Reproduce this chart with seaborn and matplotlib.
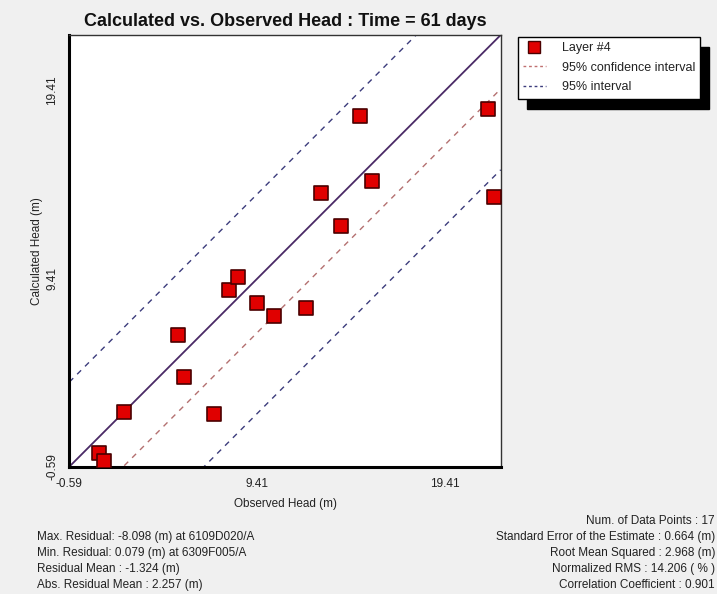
import numpy as np
import pandas as pd
import matplotlib
matplotlib.use("Agg")
import matplotlib.pyplot as plt
import seaborn as sns
from matplotlib.lines import Line2D

# ---------------- data ----------------
observed = [0.99, 1.26, 2.32, 5.18, 5.53, 7.12, 7.90, 8.40, 9.39, 10.30,
            12.02, 12.80, 13.86, 14.87, 15.50, 21.70, 22.00]
calculated = [0.12, -0.27, 2.30, 6.41, 4.17, 2.20, 8.81, 9.52, 8.10, 7.43,
              7.87, 13.95, 12.21, 18.08, 14.61, 18.42, 13.77]
series_label = "Layer #4"
axis_min = -0.59
axis_max = 22.37
tick_labels_at = [-0.59, 9.41, 19.41]
conf_offsets = [-2.87]          # 95% confidence interval (offset from 1:1)
pred_offsets = [4.50, -7.17]    # 95% interval (offset from 1:1)

left_stats = ["Max. Residual: -8.098 (m) at 6109D020/A",
              "Min. Residual: 0.079 (m) at 6309F005/A",
              "Residual Mean : -1.324 (m)",
              "Abs. Residual Mean : 2.257 (m)"]
right_stats = ["Num. of Data Points : 17",
               "Standard Error of the Estimate : 0.664 (m)",
               "Root Mean Squared : 2.968 (m)",
               "Normalized RMS : 14.206 ( % )",
               "Correlation Coefficient : 0.901"]

# ---------------- style ----------------
sns.set_style("white")
plt.rcParams['font.family'] = ['Liberation Sans', 'DejaVu Sans']
BG = "#f0f0f0"

W, H = 717, 594
fig = plt.figure(figsize=(W / 100, H / 100), dpi=100, facecolor=BG)
ax = fig.add_axes([69.3 / W, 1 - 466.7 / H, (500.7 - 69.3) / W, (466.7 - 35) / H])
ax.set_facecolor("white")

df = pd.DataFrame({"obs": observed, "calc": calculated})
line_x = np.array([axis_min, axis_max])

# 1:1 line
sns.lineplot(x=line_x, y=line_x, ax=ax, color="#4a2a66", lw=1.3, zorder=2)
for off in conf_offsets:
    sns.lineplot(x=line_x, y=line_x + off, ax=ax, color="#b47070", lw=1.0,
                 linestyle=(0, (4, 4)), zorder=2)
for off in pred_offsets:
    sns.lineplot(x=line_x, y=line_x + off, ax=ax, color="#3c3c7c", lw=1.0,
                 linestyle=(0, (4, 4)), zorder=2)

sns.scatterplot(data=df, x="obs", y="calc", ax=ax, marker="s", s=115,
                color="#e00000", edgecolor="#4a0000", linewidth=1.2, zorder=3)

ax.set_xlim(axis_min, axis_max)
ax.set_ylim(axis_min, axis_max)

ticks = np.arange(axis_min, axis_max, 2.0)
labels = [(f"{t:.2f}" if any(abs(t - l) < 1e-6 for l in tick_labels_at) else "") for t in ticks]
ax.set_xticks(ticks)
ax.set_xticklabels(labels)
ax.set_yticks(ticks)
ax.set_yticklabels(labels, rotation=90, va="center")
ax.tick_params(axis="both", direction="out", length=5, width=1, color="black",
               labelsize=8.5, labelcolor="#222222", pad=3)

for side in ["left", "bottom"]:
    ax.spines[side].set_linewidth(2.2)
    ax.spines[side].set_color("black")
for side in ["top", "right"]:
    ax.spines[side].set_linewidth(1.0)
    ax.spines[side].set_color("#333333")

ax.set_xlabel("Observed Head (m)", fontsize=8.5, color="#222222", labelpad=6)
ax.set_ylabel("Calculated Head (m)", fontsize=8.5, color="#222222", labelpad=2)

fig.text(285 / W, 1 - 22 / H, "Calculated vs. Observed Head : Time = 61 days",
         ha="center", va="center", fontsize=13, fontweight="bold", color="#111111")

# legend
handles = [Line2D([], [], marker="s", linestyle="none", markersize=8,
                  markerfacecolor="#e00000", markeredgecolor="#4a0000"),
           Line2D([], [], color="#c07070", lw=1.0, linestyle=(0, (2, 2))),
           Line2D([], [], color="#3c3c7c", lw=1.0, linestyle=(0, (2, 2)))]
leg = fig.legend(handles, [series_label, "95% confidence interval", "95% interval"],
                 loc="upper left", bbox_to_anchor=(518 / W, 1 - 37 / H),
                 borderaxespad=0, frameon=True, fancybox=False, fontsize=9,
                 handlelength=1.8, handletextpad=1.3, borderpad=0.4,
                 labelspacing=0.62, edgecolor="black",
                 shadow={"color": "black", "alpha": 1.0, "ox": 6.5, "oy": -7.2})
leg.get_frame().set_linewidth(1.0)
leg.get_frame().set_facecolor("white")
for t in leg.get_texts():
    t.set_color("#222222")

# statistics
y0 = 1 - 537 / H
dy = 16 / H
for i, s in enumerate(left_stats):
    fig.text(37 / W, y0 - i * dy, s, ha="left", va="center", fontsize=8.5, color="#222222")
yr = 1 - 521 / H
for i, s in enumerate(right_stats):
    fig.text(715 / W, yr - i * dy, s, ha="right", va="center", fontsize=8.5, color="#222222")

fig.savefig("out.png", dpi=100, facecolor=BG)
